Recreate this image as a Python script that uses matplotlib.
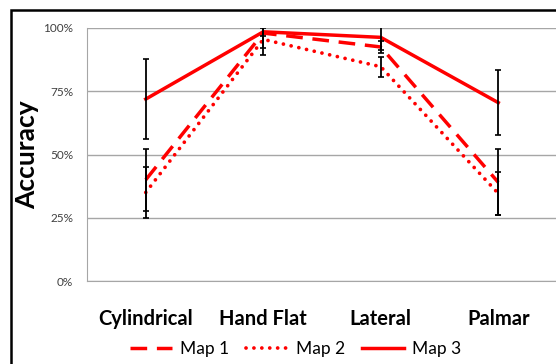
import numpy as np
import matplotlib
matplotlib.use("Agg")
import matplotlib.pyplot as plt
from matplotlib.patches import Rectangle
from matplotlib.ticker import PercentFormatter

categories = ["Cylindrical", "Hand Flat", "Lateral", "Palmar"]
yticks = [0, 0.25, 0.5, 0.75, 1.0]

map1 = [0.40, 0.98, 0.925, 0.39]
map2 = [0.35, 0.955, 0.847, 0.346]
map3 = [0.719, 0.985, 0.963, 0.705]

err1 = [0.123, 0.06, 0.023, 0.13]
err2 = [0.10, 0.06, 0.04, 0.085]
err3 = [0.157, 0.015, 0.05, 0.128]

red = "#ff0000"
W, H = 556, 364
fig = plt.figure(figsize=(W / 100, H / 100), dpi=100)
ax = fig.add_axes([87 / W, 1 - 281 / H, 470 / W, 253 / H])

x = np.arange(len(categories))

ax.plot(x, map1, color=red, lw=2.5, ls=(0, (4.8, 2.8)), label="Map 1", zorder=3)
ax.plot(x, map2, color=red, lw=2.7, ls=(0, (0.01, 2.1)),
        dash_capstyle="round", label="Map 2", zorder=3)
ax.plot(x, map3, color=red, lw=2.5, label="Map 3", zorder=3)

for vals, errs in [(map1, err1), (map2, err2), (map3, err3)]:
    ax.errorbar(x, vals, yerr=errs, fmt="none", ecolor="black",
                elinewidth=1.3, capsize=2, capthick=1.2, zorder=4)

ax.set_xlim(-0.5, 3.5)
ax.set_ylim(0, 1)
ax.set_yticks(yticks)
ax.yaxis.set_major_formatter(PercentFormatter(1.0, decimals=0))
ax.set_xticks(x)
ax.set_xticklabels(categories, fontfamily="Lato", fontweight="bold", fontsize=14.5)
ax.tick_params(axis="x", length=0, pad=20)
ax.tick_params(axis="y", length=0, pad=10, labelsize=8.5, labelcolor="#404040")
for lab in ax.get_yticklabels():
    lab.set_fontfamily("Lato")

ax.grid(axis="y", color="#a6a6a6", lw=1.0)
ax.set_axisbelow(True)
for side in ["top", "right"]:
    ax.spines[side].set_visible(False)
ax.spines["left"].set_color("#a6a6a6")
ax.spines["bottom"].set_color("#a6a6a6")

ax.set_ylabel("Accuracy", fontfamily="Lato", fontweight="bold", fontsize=19)
ax.yaxis.set_label_coords(-0.102, 0.5)

fig.legend(loc="center", bbox_to_anchor=(0.532, 0.04), ncol=3, frameon=False,
           prop={"family": "Lato", "size": 12.5}, handlelength=2.4,
           columnspacing=0.95, handletextpad=0.5)

fig.patches.append(Rectangle((11 / W, -0.1), 1.2, 1 - 10 / H + 0.1,
                             transform=fig.transFigure, fill=False,
                             edgecolor="black", lw=1.8))

fig.savefig("out.png", dpi=100)
